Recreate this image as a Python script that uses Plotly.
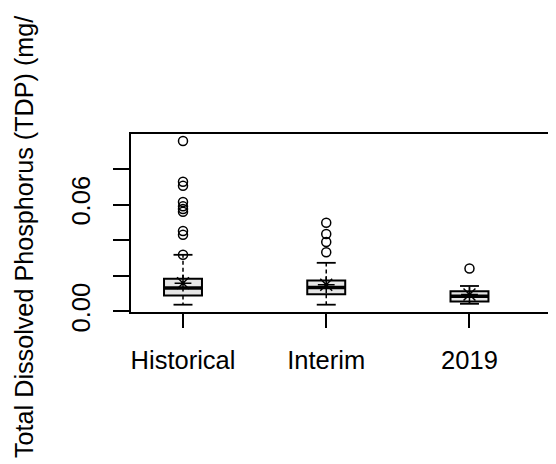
import plotly.graph_objects as go

# ---- data ----
categories = ["Historical", "Interim", "2019"]
q1 = [0.0090, 0.0096, 0.0056]
median = [0.0131, 0.0134, 0.0086]
q3 = [0.0183, 0.0174, 0.0114]
lower_whisker = [0.0038, 0.0038, 0.0043]
upper_whisker = [0.0318, 0.0273, 0.0143]
mean = [0.0159, 0.0150, 0.0095]
outliers_historical = [0.0957, 0.0728, 0.0705, 0.0614, 0.0590, 0.0575, 0.0560, 0.0452, 0.0430, 0.0318]
outliers_interim = [0.0498, 0.0435, 0.0390, 0.0332]
outliers_2019 = [0.0241]
y_tick_values = [0.00, 0.02, 0.04, 0.06, 0.08]
y_tick_labels = ["0.00", "", "", "0.06", ""]
y_title = "Total Dissolved Phosphorus (TDP) (mg/"

# ---- style ----
FONT = "Liberation Sans, Arial, Helvetica, sans-serif"
positions = [1, 2, 3]
box_w = 0.265
cap_half = box_w / 4
OFF = 8  # page body margin offset

fig = go.Figure()

fig.add_trace(go.Box(
    x=positions, q1=q1, median=median, q3=q3,
    lowerfence=q1, upperfence=q3,
    width=box_w, whiskerwidth=0,
    fillcolor="#e6e6e6", line=dict(color="black", width=2),
    boxpoints=False, hoverinfo="skip", showlegend=False,
))

# whiskers (dashed), caps, thick medians built from the stats
wx, wy, cx, cy, mx, my = [], [], [], [], [], []
for p, a, b, lo, hi, md in zip(positions, q1, q3, lower_whisker, upper_whisker, median):
    wx += [p, p, None, p, p, None]
    wy += [b, hi, None, a, lo, None]
    cx += [p - cap_half, p + cap_half, None, p - cap_half, p + cap_half, None]
    cy += [hi, hi, None, lo, lo, None]
    mx += [p - box_w / 2, p + box_w / 2, None]
    my += [md, md, None]

fig.add_trace(go.Scatter(x=wx, y=wy, mode="lines",
                         line=dict(color="black", width=1.5, dash="4px,3px"),
                         showlegend=False, hoverinfo="skip"))
fig.add_trace(go.Scatter(x=cx, y=cy, mode="lines",
                         line=dict(color="black", width=1.8),
                         showlegend=False, hoverinfo="skip"))
fig.add_trace(go.Scatter(x=mx, y=my, mode="lines",
                         line=dict(color="black", width=3.5),
                         showlegend=False, hoverinfo="skip"))

# outliers
for p, vals in zip(positions, [outliers_historical, outliers_interim, outliers_2019]):
    fig.add_trace(go.Scatter(
        x=[p] * len(vals), y=vals, mode="markers",
        marker=dict(symbol="circle-open", size=9, color="black", line=dict(width=1.5)),
        showlegend=False, hoverinfo="skip"))

# means
fig.add_trace(go.Scatter(
    x=positions, y=mean, mode="markers",
    marker=dict(symbol="asterisk-open", size=14, color="black", line=dict(width=1.5, color="black")),
    showlegend=False, hoverinfo="skip"))

fig.update_layout(
    width=556 - OFF, height=464 - OFF,
    margin=dict(l=131 - OFF, r=1, t=134 - OFF, b=152, autoexpand=False),
    paper_bgcolor="white", plot_bgcolor="white",
    font=dict(family=FONT, size=25, color="black"),
    showlegend=False,
    xaxis=dict(
        range=[0.637, 3.597], tickmode="array", tickvals=positions, ticktext=categories,
        ticks="outside", ticklen=14, tickwidth=1.5, tickcolor="black",
        showline=True, linecolor="black", linewidth=2, mirror=True,
        showgrid=False, zeroline=False, ticklabelstandoff=10,
        tickfont=dict(family=FONT, size=25.5),
    ),
    yaxis=dict(
        range=[-0.0003, 0.0996], tickmode="array", tickvals=y_tick_values, ticktext=y_tick_labels,
        ticks="outside", ticklen=16, tickwidth=1.5, tickcolor="black",
        showline=True, linecolor="black", linewidth=2, mirror=False,
        showgrid=False, zeroline=False, tickangle=-90, ticklabelstandoff=13,
        tickfont=dict(family=FONT, size=25.5),
    ),
    shapes=[dict(type="line", xref="paper", yref="paper", x0=1, x1=1, y0=0, y1=1,
                 line=dict(color="#bbbbbb", width=1.5))],
    annotations=[dict(
        text=y_title, textangle=-90, xref="paper", yref="paper",
        x=(24 - 131) / 424, y=(312 - 237) / 178, xanchor="center", yanchor="middle",
        showarrow=False, font=dict(family=FONT, size=25.2, color="black"),
    )],
)

fig.write_html("out.html")
